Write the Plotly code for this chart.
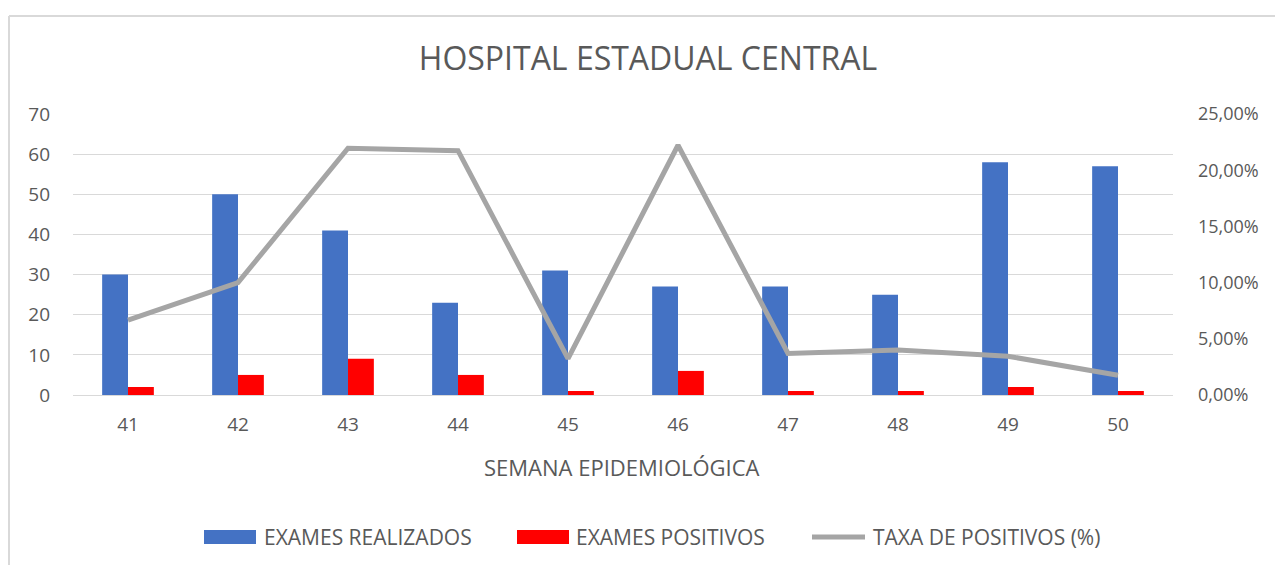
import plotly.graph_objects as go

FONT = "Open Sans"
TEXT_COLOR = "#595959"
GRID_COLOR = "#D9D9D9"

semanas = ["41", "42", "43", "44", "45", "46", "47", "48", "49", "50"]
exames_realizados = [30, 50, 41, 23, 31, 27, 27, 25, 58, 57]
exames_positivos = [2, 5, 9, 5, 1, 6, 1, 1, 2, 1]
taxa_positivos = [0.0667, 0.1000, 0.2195, 0.2174, 0.0323, 0.2222, 0.0370, 0.0400, 0.0345, 0.0175]

serie_nomes = ["EXAMES REALIZADOS", "EXAMES POSITIVOS", "TAXA DE POSITIVOS (%)"]
serie_cores = ["#4472C4", "#FF0000", "#A5A5A5"]

# page has an 8px body margin, so the figure is a bit smaller than the window
W, H = 1275, 557
M_LEFT, M_RIGHT, M_TOP, M_BOTTOM = 65, 110, 106, 170
plot_w = W - M_LEFT - M_RIGHT
plot_h = H - M_TOP - M_BOTTOM


def px_x(x):
    return (x - M_LEFT) / plot_w


def px_y(y):
    return (H - M_BOTTOM - y) / plot_h


fig = go.Figure()
fig.add_trace(
    go.Bar(x=semanas, y=exames_realizados, name=serie_nomes[0],
           marker_color=serie_cores[0], marker_line_width=0)
)
fig.add_trace(
    go.Bar(x=semanas, y=exames_positivos, name=serie_nomes[1],
           marker_color=serie_cores[1], marker_line_width=0)
)
fig.add_trace(
    go.Scatter(x=semanas, y=taxa_positivos, name=serie_nomes[2], mode="lines",
               line=dict(color=serie_cores[2], width=5), yaxis="y2")
)

# chart area border (cropped excel frame: left and top only)
border = dict(type="line", xref="paper", yref="paper", line=dict(color=GRID_COLOR, width=2), layer="below")
fig.add_shape(x0=px_x(1), x1=px_x(1), y0=px_y(8), y1=px_y(H + 2), **border)
fig.add_shape(x0=px_x(1), x1=px_x(1274), y0=px_y(8), y1=px_y(8), **border)

# excel-style legend: wide swatches for bars, short thick line for the rate
legend_y = 529
swatches = [(196, 248), (509, 561)]
for (x0, x1), cor in zip(swatches, serie_cores[:2]):
    fig.add_shape(type="rect", xref="paper", yref="paper",
                  x0=px_x(x0), x1=px_x(x1), y0=px_y(legend_y + 7), y1=px_y(legend_y - 7),
                  fillcolor=cor, line_width=0)
fig.add_shape(type="line", xref="paper", yref="paper",
              x0=px_x(804), x1=px_x(857), y0=px_y(legend_y), y1=px_y(legend_y),
              line=dict(color=serie_cores[2], width=5))
for x_text, nome in zip([254, 566, 863], serie_nomes):
    fig.add_annotation(x=px_x(x_text), y=px_y(legend_y), xref="paper", yref="paper",
                       text=nome, showarrow=False, xanchor="left", yanchor="middle",
                       font=dict(size=21, color=TEXT_COLOR))

fig.add_annotation(x=px_x(614), y=px_y(459), xref="paper", yref="paper",
                   text="SEMANA EPIDEMIOLÓGICA", showarrow=False,
                   xanchor="center", yanchor="middle", font=dict(size=22, color=TEXT_COLOR))

fig.update_layout(
    width=W,
    height=H,
    margin=dict(l=M_LEFT, r=M_RIGHT, t=M_TOP, b=M_BOTTOM, autoexpand=False),
    paper_bgcolor="white",
    plot_bgcolor="white",
    separators=",.",
    font=dict(family=FONT, color=TEXT_COLOR, size=18),
    title=dict(
        text="HOSPITAL ESTADUAL CENTRAL",
        x=px_x(640),
        xref="paper",
        xanchor="center",
        y=1 - 51 / H,
        yanchor="middle",
        font=dict(size=32, color=TEXT_COLOR),
    ),
    barmode="group",
    bargap=0.53,
    bargroupgap=0,
    showlegend=False,
    xaxis=dict(
        type="category",
        showgrid=False,
        showline=True,
        linecolor=GRID_COLOR,
        linewidth=1,
        ticks="",
        ticklabelstandoff=12,
        tickfont=dict(size=19),
    ),
    yaxis=dict(
        range=[0, 70],
        dtick=10,
        showgrid=True,
        gridcolor=GRID_COLOR,
        gridwidth=1,
        zeroline=False,
        showline=False,
        ticks="",
        ticklabelstandoff=22,
        tickfont=dict(size=19),
    ),
    yaxis2=dict(
        range=[0, 0.25],
        dtick=0.05,
        tickformat=".2%",
        overlaying="y",
        side="right",
        showgrid=False,
        zeroline=False,
        showline=False,
        ticks="",
        ticklabelstandoff=24,
        tickfont=dict(size=18),
    ),
)

fig.write_html("out.html")
